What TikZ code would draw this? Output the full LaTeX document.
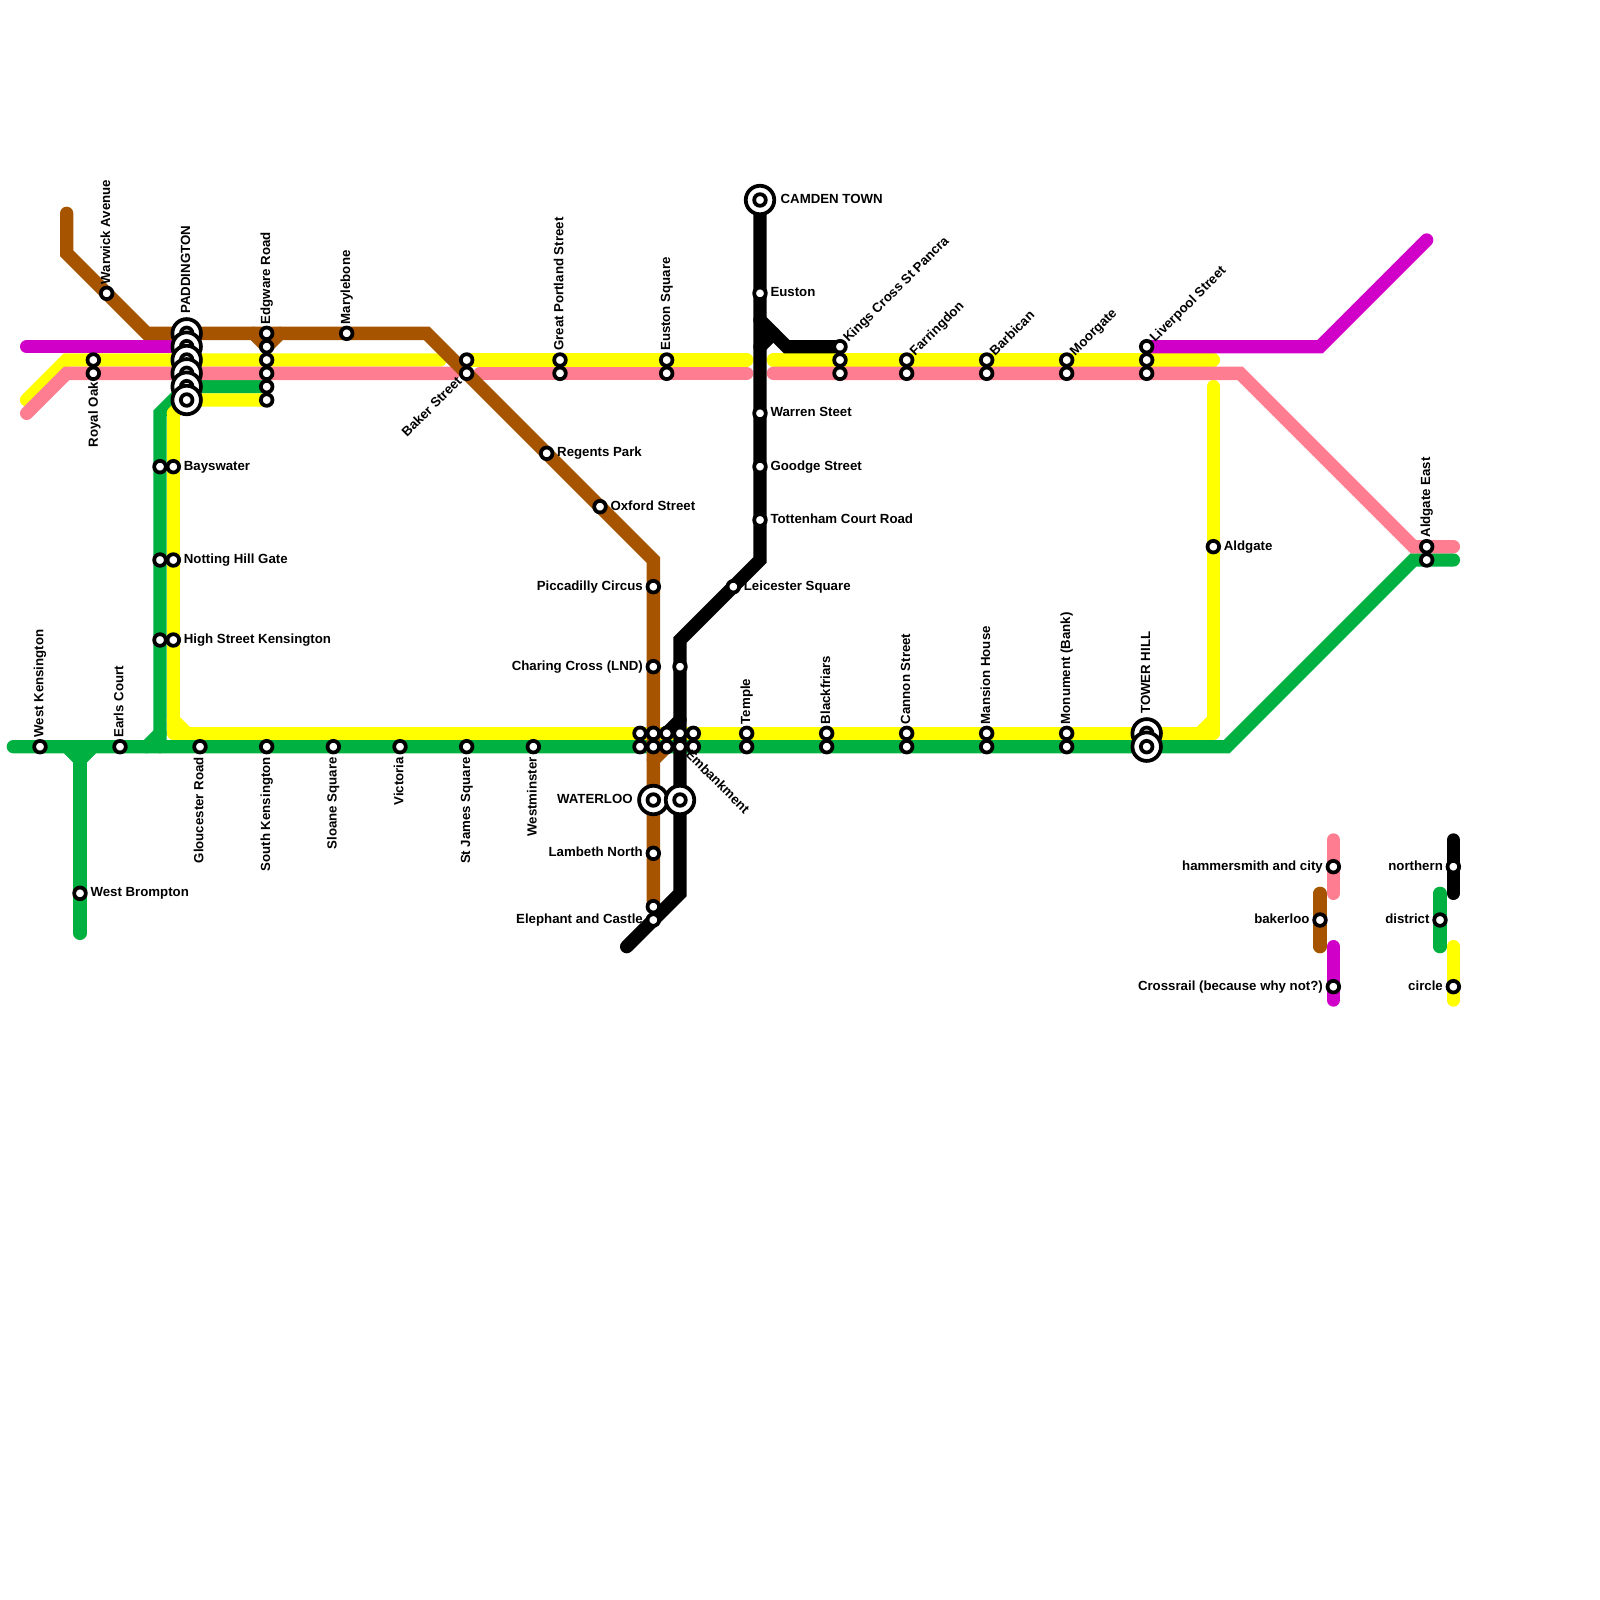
\documentclass[tikz,border=0pt]{standalone}
\usepackage{fontspec}
\setmainfont{Liberation Sans}
\usepackage{xcolor}
\usepackage{tikz}
\definecolor{bakbrown}{RGB}{166,84,0}
\definecolor{hampink}{RGB}{255,125,145}
\definecolor{crosspurple}{RGB}{208,0,200}
\definecolor{distgreen}{RGB}{0,176,64}
\definecolor{circyellow}{RGB}{255,255,0}
\pgfdeclarelayer{lines}
\pgfsetlayers{lines,main}
\tikzset{
  lnbase/.style={line width=0.25cm, line cap=round},
  lnbak/.style={lnbase, draw=bakbrown},
  lnham/.style={lnbase, draw=hampink},
  lncross/.style={lnbase, draw=crosspurple},
  lndist/.style={lnbase, draw=distgreen},
  lncirc/.style={lnbase, draw=circyellow},
  lnnorth/.style={lnbase, draw=black},
  stn/.style={draw, circle, fill=white, line width=2pt, minimum size=6.2pt, inner sep=0pt, outer sep=0pt},
  hub/.style={draw, circle, fill=white, line width=2pt, minimum size=15.2pt, inner sep=0pt, outer sep=0pt,
    path picture={\draw[line width=2pt] (path picture bounding box.center) circle (3.1pt);}},
  lbl/.style={font=\fontsize{7.07pt}{8pt}\selectfont\bfseries, inner sep=0pt, text height=.72em, text depth=.36em},
  lup/.style={lbl, yshift=.165cm, rotate=90, anchor=west},
  luphub/.style={lbl, yshift=.36cm, rotate=90, anchor=west},
  ldown/.style={lbl, yshift=-.19cm, rotate=90, anchor=east},
  lright/.style={lbl, xshift=.19cm, anchor=west},
  lleft/.style={lbl, xshift=-.19cm, anchor=east},
  lne/.style={lbl, xshift=.11cm, yshift=.11cm, rotate=45, anchor=west},
  lsw/.style={lbl, xshift=-.12cm, yshift=-.12cm, rotate=45, anchor=east},
  lse/.style={lbl, xshift=.135cm, yshift=-.115cm, rotate=-45, anchor=west}
}
\begin{document}
\begin{tikzpicture}[x=0.25cm,y=-0.25cm]
  \useasboundingbox (0,0) rectangle (120,120);

  % west end
  \node[stn] (wken) at (3,56) {};
  \node[lup] (wkenl) at (wken) {West Kensington};
  \node[stn] (royoa) at (7,27) {};
  \node[stn] (royob) at (7,28) {};
  \node[lbl, xshift=.02cm, yshift=-.16cm, rotate=90, anchor=east] (royol) at (royob) {Royal Oak};
  \node[stn] (warw) at (8,22) {};
  \node[lup] (warwl) at (warw) {Warwick Avenue};
  \node[stn] (earl) at (9,56) {};
  \node[lup] (earll) at (earl) {Earls Court};
  \node[stn] (wbro) at (6,67) {};
  \node[lright] (wbrol) at (wbro) {West Brompton};

  \node[stn] (baysa) at (12,35) {};
  \node[stn] (baysb) at (13,35) {};
  \node[lright] (baysl) at (baysb) {Bayswater};
  \node[stn] (nhgaa) at (12,42) {};
  \node[stn] (nhgab) at (13,42) {};
  \node[lright] (nhgal) at (nhgab) {Notting Hill Gate};
  \node[stn] (hskea) at (12,48) {};
  \node[stn] (hskeb) at (13,48) {};
  \node[lright] (hskel) at (hskeb) {High Street Kensington};

  % paddington and edgware road
  \node[hub] (padda) at (14,25) {};
  \node[hub] (paddb) at (14,26) {};
  \node[hub] (paddc) at (14,27) {};
  \node[hub] (paddd) at (14,28) {};
  \node[hub] (padde) at (14,29) {};
  \node[hub] (paddf) at (14,30) {};
  \node[luphub] (paddl) at (padda) {PADDINGTON};
  \node[stn] (edgwa) at (20,25) {};
  \node[stn] (edgwb) at (20,26) {};
  \node[stn] (edgwc) at (20,27) {};
  \node[stn] (edgwd) at (20,28) {};
  \node[stn] (edgwe) at (20,29) {};
  \node[stn] (edgwf) at (20,30) {};
  \node[lup] (edgwl) at (edgwa) {Edgware Road};
  \node[stn] (mary) at (26,25) {};
  \node[lup] (maryl) at (mary) {Marylebone};

  % top row
  \node[stn] (bakea) at (35,27) {};
  \node[stn] (bakeb) at (35,28) {};
  \node[lsw] (bakel) at (bakeb) {Baker Street};
  \node[stn] (gpora) at (42,27) {};
  \node[stn] (gporb) at (42,28) {};
  \node[lup] (gporl) at (gpora) {Great Portland Street};
  \node[stn] (esqua) at (50,27) {};
  \node[stn] (esqub) at (50,28) {};
  \node[lup] (esqul) at (esqua) {Euston Square};
  \node[stn] (kinga) at (63,26) {};
  \node[stn] (kingb) at (63,27) {};
  \node[stn] (kingc) at (63,28) {};
  \node[lne] (kingl) at (kinga) {Kings Cross St Pancra};
  \node[stn] (farra) at (68,27) {};
  \node[stn] (farrb) at (68,28) {};
  \node[lne] (farrl) at (farra) {Farringdon};
  \node[stn] (barba) at (74,27) {};
  \node[stn] (barbb) at (74,28) {};
  \node[lne] (barbl) at (barba) {Barbican};
  \node[stn] (moora) at (80,27) {};
  \node[stn] (moorb) at (80,28) {};
  \node[lne] (moorl) at (moora) {Moorgate};
  \node[stn] (liva) at (86,26) {};
  \node[stn] (livb) at (86,27) {};
  \node[stn] (livc) at (86,28) {};
  \node[lne] (livl) at (liva) {Liverpool Street};

  % bakerloo and northern stops
  \node[stn] (regp) at (41,34) {};
  \node[lright] (regpl) at (regp) {Regents Park};
  \node[stn] (oxfo) at (45,38) {};
  \node[lright] (oxfol) at (oxfo) {Oxford Street};
  \node[stn] (picc) at (49,44) {};
  \node[lleft] (piccl) at (picc) {Piccadilly Circus};
  \node[stn] (char) at (49,50) {};
  \node[lleft] (charl) at (char) {Charing Cross (LND)};
  \node[stn] (charb) at (51,50) {};
  \node[hub] (watea) at (49,60) {};
  \node[hub] (wateb) at (51,60) {};
  \node[lleft, xshift=-.19cm] (watel) at (watea) {WATERLOO};
  \node[stn] (lamb) at (49,64) {};
  \node[lleft] (lambl) at (lamb) {Lambeth North};
  \node[stn] (eleca) at (49,68) {};
  \node[stn] (elecb) at (49,69) {};
  \node[lleft] (elecl) at (elecb) {Elephant and Castle};
  \node[stn] (leic) at (55,44) {};
  \node[lright] (leicl) at (leic) {Leicester Square};
  \node[hub] (camd) at (57,15) {};
  \node[lright, xshift=.19cm] (camdl) at (camd) {CAMDEN TOWN};
  \node[stn] (eust) at (57,22) {};
  \node[lright] (eustl) at (eust) {Euston};
  \node[stn] (warr) at (57,31) {};
  \node[lright] (warrl) at (warr) {Warren Steet};
  \node[stn] (good) at (57,35) {};
  \node[lright] (goodl) at (good) {Goodge Street};
  \node[stn] (tott) at (57,39) {};
  \node[lright] (tottl) at (tott) {Tottenham Court Road};

  % bottom row
  \node[stn] (glou) at (15,56) {};
  \node[ldown] (gloul) at (glou) {Gloucester Road};
  \node[stn] (sken) at (20,56) {};
  \node[ldown] (skenl) at (sken) {South Kensington};
  \node[stn] (sloa) at (25,56) {};
  \node[ldown] (sloal) at (sloa) {Sloane Square};
  \node[stn] (vict) at (30,56) {};
  \node[ldown] (victl) at (vict) {Victoria};
  \node[stn] (stja) at (35,56) {};
  \node[ldown] (stjal) at (stja) {St James Square};
  \node[stn] (west) at (40,56) {};
  \node[ldown] (westl) at (west) {Westminster};
  \node[stn] (emba) at (48,55) {};
  \node[stn] (embb) at (48,56) {};
  \node[stn] (embc) at (49,55) {};
  \node[stn] (embd) at (49,56) {};
  \node[stn] (embe) at (50,55) {};
  \node[stn] (embf) at (50,56) {};
  \node[stn] (embg) at (51,55) {};
  \node[stn] (embh) at (51,56) {};
  \node[stn] (embi) at (52,55) {};
  \node[stn] (embj) at (52,56) {};
  \node[lse] (embl) at (embh) {Embankment};
  \node[stn] (tempa) at (56,55) {};
  \node[stn] (tempb) at (56,56) {};
  \node[lup] (templ) at (tempa) {Temple};
  \node[stn] (blaca) at (62,55) {};
  \node[stn] (blacb) at (62,56) {};
  \node[lup] (blacl) at (blaca) {Blackfriars};
  \node[stn] (canna) at (68,55) {};
  \node[stn] (cannb) at (68,56) {};
  \node[lup] (cannl) at (canna) {Cannon Street};
  \node[stn] (mansa) at (74,55) {};
  \node[stn] (mansb) at (74,56) {};
  \node[lup] (mansl) at (mansa) {Mansion House};
  \node[stn] (monua) at (80,55) {};
  \node[stn] (monub) at (80,56) {};
  \node[lup] (monul) at (monua) {Monument (Bank)};
  \node[hub] (towea) at (86,55) {};
  \node[hub] (toweb) at (86,56) {};
  \node[luphub] (towel) at (towea) {TOWER HILL};
  \node[stn] (aldg) at (91,41) {};
  \node[lright] (aldgl) at (aldg) {Aldgate};
  \node[stn] (aldea) at (107,41) {};
  \node[stn] (aldeb) at (107,42) {};
  \node[lup] (aldel) at (aldea) {Aldgate East};

  % key
  \node[stn] (keyham) at (100,65) {};
  \node[lleft] (keyhaml) at (keyham) {hammersmith and city};
  \node[stn] (keybak) at (99,69) {};
  \node[lleft] (keybakl) at (keybak) {bakerloo};
  \node[stn] (keycross) at (100,74) {};
  \node[lleft] (keycrossl) at (keycross) {Crossrail (because why not?)};
  \node[stn] (keynorth) at (109,65) {};
  \node[lleft] (keynorthl) at (keynorth) {northern};
  \node[stn] (keydist) at (108,69) {};
  \node[lleft] (keydistl) at (keydist) {district};
  \node[stn] (keycirc) at (109,74) {};
  \node[lleft] (keycircl) at (keycirc) {circle};

  % bends and line ends
  \coordinate (bakA) at (5,16);
  \coordinate (bakB) at (5,19);
  \coordinate (bakC) at (11,25);
  \coordinate (bakD) at (32,25);
  \coordinate (bakE) at (49,42);
  \coordinate (bakF) at (19,25);
  \coordinate (bakG) at (21,25);
  \coordinate (bakH) at (49,57);
  \coordinate (hamA) at (2,31);
  \coordinate (hamB) at (5,28);
  \coordinate (hamC) at (34,28);
  \coordinate (hamD) at (36,28);
  \coordinate (hamE) at (56,28);
  \coordinate (hamF) at (58,28);
  \coordinate (hamG) at (93,28);
  \coordinate (hamH) at (106,41);
  \coordinate (hamI) at (109,41);
  \coordinate (circA) at (2,30);
  \coordinate (circB) at (5,27);
  \coordinate (circC) at (33,27);
  \coordinate (circD) at (56,27);
  \coordinate (circE) at (58,27);
  \coordinate (circF) at (91,27);
  \coordinate (circG) at (13,31);
  \coordinate (circH) at (13,55);
  \coordinate (circI) at (91,55);
  \coordinate (circJ) at (91,29);
  \coordinate (circK) at (13,54);
  \coordinate (circL) at (14,55);
  \coordinate (circM) at (90,55);
  \coordinate (circN) at (91,54);
  \coordinate (crossA) at (2,26);
  \coordinate (crossB) at (99,26);
  \coordinate (crossC) at (107,18);
  \coordinate (distA) at (1,56);
  \coordinate (distB) at (92,56);
  \coordinate (distC) at (106,42);
  \coordinate (distD) at (109,42);
  \coordinate (distE) at (12,31);
  \coordinate (distF) at (12,56);
  \coordinate (distG) at (11,56);
  \coordinate (distH) at (12,55);
  \coordinate (distI) at (5,56);
  \coordinate (distJ) at (6,57);
  \coordinate (distK) at (7,56);
  \coordinate (distL) at (6,70);
  \coordinate (northA) at (57,42);
  \coordinate (northB) at (51,48);
  \coordinate (northC) at (51,67);
  \coordinate (northD) at (47,71);
  \coordinate (northE) at (57,24);
  \coordinate (northF) at (59,26);
  \coordinate (northG) at (57,26);
  \coordinate (northH) at (58,25);
  \coordinate (northI) at (51,54);
  \coordinate (keyhamA) at (100,63);
  \coordinate (keyhamB) at (100,67);
  \coordinate (keybakA) at (99,67);
  \coordinate (keybakB) at (99,71);
  \coordinate (keycrossA) at (100,71);
  \coordinate (keycrossB) at (100,75);
  \coordinate (keynorthA) at (109,63);
  \coordinate (keynorthB) at (109,67);
  \coordinate (keydistA) at (108,67);
  \coordinate (keydistB) at (108,71);
  \coordinate (keycircA) at (109,71);
  \coordinate (keycircB) at (109,75);

  \begin{pgfonlayer}{lines}
    % district
    \draw[lndist] (distA) -- (distB) -- (distC) -- (distD);
    \draw[lndist] (distF) -- (distE) -- (padde.center) -- (edgwe.center);
    \draw[lndist] (distG) -- (distH);
    \draw[lndist] (distI) -- (distJ) -- (distK);
    \draw[lndist] (distJ) -- (distL);
    % circle
    \draw[lncirc] (circA) -- (circB) -- (circC);
    \draw[lncirc] (bakea.center) -- (circD);
    \draw[lncirc] (circE) -- (circF);
    \draw[lncirc, line join=round] (circG) -- (circH) -- (circI) -- (circJ);
    \draw[lncirc] (circK) -- (circL);
    \draw[lncirc] (circM) -- (circN);
    \draw[lncirc] (circG) -- (paddf.center) -- (edgwf.center);
    % hammersmith and city
    \draw[lnham] (hamA) -- (hamB) -- (hamC);
    \draw[lnham] (hamD) -- (hamE);
    \draw[lnham] (hamF) -- (hamG) -- (hamH) -- (hamI);
    % crossrail
    \draw[lncross] (crossA) -- (paddb.center);
    \draw[lncross] (liva.center) -- (crossB) -- (crossC);
    % bakerloo
    \draw[lnbak] (bakA) -- (bakB) -- (bakC) -- (bakD) -- (bakE) -- (eleca.center);
    \draw[lnbak] (bakF) -- (edgwb.center) -- (bakG);
    \draw[lnbak] (bakH) -- (embf.center);
    % northern
    \draw[lnnorth] (camd.center) -- (northA) -- (northB) -- (northC) -- (northD);
    \draw[lnnorth] (northE) -- (northF) -- (kinga.center);
    \draw[lnnorth] (northG) -- (northH);
    \draw[lnnorth] (northI) -- (embe.center);
    % key
    \draw[lnham] (keyhamA) -- (keyhamB);
    \draw[lnbak] (keybakA) -- (keybakB);
    \draw[lncross] (keycrossA) -- (keycrossB);
    \draw[lnnorth] (keynorthA) -- (keynorthB);
    \draw[lndist] (keydistA) -- (keydistB);
    \draw[lncirc] (keycircA) -- (keycircB);
  \end{pgfonlayer}
\end{tikzpicture}
\end{document}
